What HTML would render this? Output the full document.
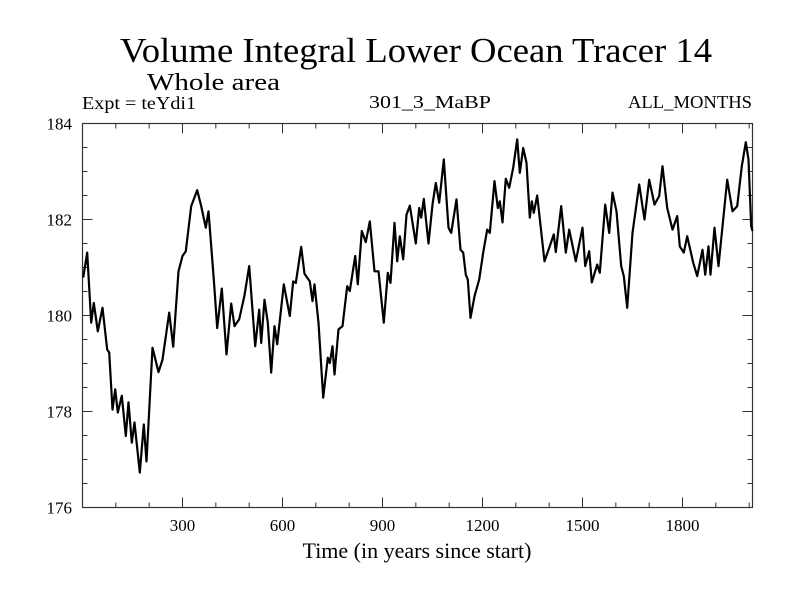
<!DOCTYPE html>
<html><head><meta charset="utf-8"><style>
html,body{margin:0;padding:0;background:#fff;}
svg{display:block;font-family:"Liberation Serif",serif;}
</style></head><body>
<svg id="chart" width="800" height="600" viewBox="0 0 800 600" xmlns="http://www.w3.org/2000/svg">
<rect x="0" y="0" width="800" height="600" fill="#fff"/>
<text x="416" y="62" font-size="35" text-anchor="middle" textLength="592" lengthAdjust="spacingAndGlyphs">Volume Integral Lower Ocean Tracer 14</text>
<text x="147" y="90" font-size="24" textLength="133" lengthAdjust="spacingAndGlyphs">Whole area</text>
<text x="82" y="109" font-size="18" textLength="114" lengthAdjust="spacingAndGlyphs">Expt = teYdi1</text>
<text x="430" y="108" font-size="18" text-anchor="middle" textLength="122" lengthAdjust="spacingAndGlyphs">301_3_MaBP</text>
<text x="752" y="108" font-size="18" text-anchor="end" textLength="124" lengthAdjust="spacingAndGlyphs">ALL_MONTHS</text>
<g id="axes"></g>
<text x="417" y="558" font-size="22" text-anchor="middle">Time (in years since start)</text>
</svg>
<script>
const years = [2,14,26,34,46,60,74,80,90,98,106,118,130,138,148,156,172,184,192,210,228,240,260,272,288,300,310,326,344,356,370,378,394,404,418,432,446,456,470,486,500,518,530,536,546,556,566,576,584,604,622,632,640,656,666,682,690,696,708,722,736,742,750,756,768,780,794,802,818,826,838,850,862,876,888,904,916,924,936,944,952,962,972,982,1000,1010,1016,1024,1038,1050,1060,1070,1084,1098,1106,1122,1134,1142,1150,1156,1164,1176,1190,1202,1214,1222,1236,1246,1252,1260,1270,1280,1292,1304,1312,1322,1332,1342,1348,1354,1364,1386,1400,1414,1420,1436,1450,1460,1480,1500,1508,1520,1528,1544,1552,1568,1580,1590,1602,1616,1624,1634,1650,1670,1686,1700,1716,1730,1740,1754,1770,1784,1792,1804,1814,1832,1844,1860,1868,1878,1884,1896,1908,1934,1950,1964,1978,1990,1998,2006,2012];
const values = [180.79,181.31,179.85,180.26,179.67,180.16,179.29,179.23,178.04,178.46,177.98,178.33,177.49,178.19,177.35,177.77,176.73,177.73,176.96,179.33,178.82,179.08,180.06,179.35,180.92,181.24,181.34,182.28,182.61,182.28,181.83,182.17,180.75,179.74,180.56,179.19,180.25,179.78,179.92,180.42,181.03,179.36,180.12,179.43,180.33,179.85,178.81,179.78,179.40,180.65,179.99,180.71,180.68,181.43,180.87,180.71,180.30,180.65,179.85,178.29,179.12,179.01,179.36,178.77,179.71,179.78,180.61,180.51,181.24,180.65,181.76,181.53,181.96,180.92,180.92,179.85,180.89,180.68,181.93,181.13,181.65,181.17,182.10,182.29,181.50,182.24,182.04,182.43,181.50,182.31,182.76,182.35,183.25,181.83,181.72,182.42,181.37,181.31,180.85,180.75,179.95,180.40,180.75,181.31,181.79,181.72,182.80,182.24,182.38,181.94,182.85,182.66,183.08,183.67,182.97,183.49,183.18,182.04,182.38,182.14,182.50,181.13,181.41,181.69,181.32,182.28,181.31,181.79,181.13,181.83,181.03,181.34,180.69,181.06,180.89,182.31,181.72,182.56,182.17,181.03,180.82,180.16,181.72,182.73,182.00,182.83,182.31,182.49,183.11,182.24,181.79,182.07,181.44,181.31,181.65,181.10,180.82,181.37,180.85,181.44,180.85,181.83,181.03,182.83,182.17,182.28,183.11,183.61,183.25,181.86,181.76];
const xTickLabels = [300,600,900,1200,1500,1800];
const yTickLabels = [176,178,180,182,184];
const NS = "http://www.w3.org/2000/svg";
const L = 82.5, R = 752.5, T = 123.5, B = 507.5;
const xMin = 0, xMax = 2010, yMin = 176, yMax = 184;
function xs(v){ return L + (v - xMin) / (xMax - xMin) * (R - L); }
function ys(v){ return B - (v - yMin) / (yMax - yMin) * (B - T); }
const g = document.getElementById('axes');
function mk(tag, attrs){ const e = document.createElementNS(NS, tag); for (const k in attrs) e.setAttribute(k, attrs[k]); g.appendChild(e); return e; }
// minor + major x ticks (top and bottom)
for (let yr = 100; yr < xMax; yr += 100) {
  const major = yr % 300 === 0, len = major ? 10 : 5, x = xs(yr);
  const t1 = mk('line', {x1:x, y1:B, x2:x, y2:B-len, stroke:'#333', 'stroke-width':1});
  
  
  const t2 = mk('line', {x1:x, y1:T, x2:x, y2:T+len, stroke:'#333', 'stroke-width':1});
  
  
}
for (let v = yMin + 0.5; v < yMax; v += 0.5) {
  const major = Math.abs(v - Math.round(v / 2) * 2) < 1e-6, len = major ? 10 : 5, y = ys(v);
  const t1 = mk('line', {x1:L, y1:y, x2:L+len, y2:y, stroke:'#333', 'stroke-width':1});
  
  
  const t2 = mk('line', {x1:R, y1:y, x2:R-len, y2:y, stroke:'#333', 'stroke-width':1});
  
  
}
const frame = mk('rect', {x:L, y:T, width:R-L, height:B-T, fill:'none', stroke:'#333', 'stroke-width':1.2});


xTickLabels.forEach(v => {
  const t = mk('text', {x:xs(v), y:531, 'font-size':17, 'text-anchor':'middle'});
  t.textContent = v;
  
  
});
yTickLabels.forEach(v => {
  const t = mk('text', {x:72, y:ys(v)+6, 'font-size':17, 'text-anchor':'end'});
  t.textContent = v;
  
  
});
const d = years.map((yr, i) => (i ? 'L' : 'M') + Math.min(xs(yr), R).toFixed(1) + ' ' + ys(values[i]).toFixed(1)).join(' ');
const line = mk('path', {d:d, fill:'none', stroke:'#000', 'stroke-width':2.2, 'stroke-linejoin':'round'});


</script>
</body></html>
